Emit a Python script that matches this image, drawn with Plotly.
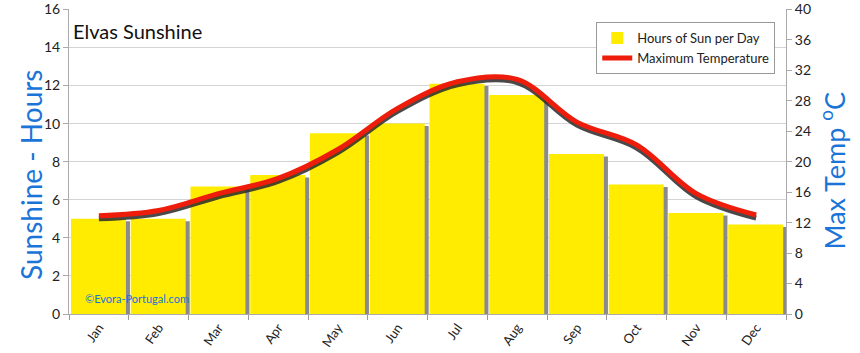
import plotly.graph_objects as go

months = ["Jan", "Feb", "Mar", "Apr", "May", "Jun", "Jul", "Aug", "Sep", "Oct", "Nov", "Dec"]
sun_hours = [5.0, 5.0, 6.7, 7.3, 9.5, 10.0, 12.1, 11.5, 8.4, 6.8, 5.3, 4.7]
max_temp = [12.9, 13.6, 15.8, 17.8, 21.6, 27.0, 30.5, 30.8, 25.2, 22.2, 15.8, 13.0]

FONT = "Lato"
BLUE = "#1b74d8"

fig = go.Figure()

# bar shadows (gray), drawn behind and slightly lower / to the right
fig.add_trace(go.Bar(x=months, y=sun_hours, base=-0.13, offset=-0.40, width=0.92,
                     marker=dict(color="#8a8a8a", line=dict(width=0)),
                     showlegend=False, hoverinfo="skip"))
# sunshine bars
fig.add_trace(go.Bar(x=months, y=sun_hours, name="Hours of Sun per Day",
                     offset=-0.467, width=0.92,
                     marker=dict(color="#FFEC00", line=dict(width=0))))
# line shadow (hidden, slightly shifted axis so it sits below the red line)
fig.add_trace(go.Scatter(x=months, y=max_temp, yaxis="y2", mode="lines",
                         line=dict(color="#2a2a2a", width=5, shape="spline", smoothing=1.0),
                         opacity=0.85, showlegend=False, hoverinfo="skip"))
# temperature line
fig.add_trace(go.Scatter(x=months, y=max_temp, yaxis="y3", mode="lines",
                         name="Maximum Temperature",
                         line=dict(color="#ee1c0a", width=5, shape="spline", smoothing=1.0)))

fig.update_layout(
    width=860, height=353,
    margin=dict(l=69, r=74, t=9, b=39),
    paper_bgcolor="white", plot_bgcolor="white",
    barmode="overlay",
    font=dict(family=FONT, size=13, color="#222"),
    xaxis=dict(type="category", tickson="boundaries", ticks="outside", ticklen=5,
               tickcolor="#999", tickangle=-55, showline=True, linecolor="#aaa",
               showgrid=False, tickfont=dict(size=13, color="#222"),
               range=[-0.5, 11.5], automargin=False),
    yaxis=dict(range=[0, 16.02], tickvals=[0, 2, 4, 6, 8, 10, 12, 14, 16],
               showgrid=True, gridcolor="#d4d4d4",
               showline=True, linecolor="#aaa", ticks="outside", ticklen=5,
               tickcolor="#aaa", tickfont=dict(size=14, color="#222"), zeroline=False,
               ticklabeloverflow="allow", automargin=False),
    yaxis2=dict(range=[0.4, 40.45], overlaying="y", visible=False),
    yaxis3=dict(range=[0, 40.05], tickvals=[0, 4, 8, 12, 16, 20, 24, 28, 32, 36, 40],
                overlaying="y", side="right", showgrid=False,
                showline=True, linecolor="#aaa", ticks="outside", ticklen=5,
                tickcolor="#aaa", tickfont=dict(size=14, color="#222"), zeroline=False,
                ticklabeloverflow="allow", automargin=False),
    legend=dict(x=0.985, y=0.957, xanchor="right", yanchor="top",
                bgcolor="white", bordercolor="#999", borderwidth=1,
                font=dict(size=13, color="#222"), tracegroupgap=2,
                itemsizing="constant"),
    annotations=[
        dict(text="Elvas Sunshine", xref="paper", yref="paper", x=0.003, y=0.975,
             xanchor="left", yanchor="top", showarrow=False,
             font=dict(size=20, color="#111", family=FONT)),
        dict(text="Sunshine - Hours", xref="paper", yref="paper", x=-0.052, y=0.455,
             xanchor="center", yanchor="middle", textangle=-90, showarrow=False,
             font=dict(size=28, color=BLUE, family=FONT)),
        dict(text="Max Temp <sup>o</sup>C", xref="paper", yref="paper", x=1.064, y=0.47,
             xanchor="center", yanchor="middle", textangle=-90, showarrow=False,
             font=dict(size=27, color=BLUE, family=FONT)),
        dict(text="©Evora-Portugal.com", xref="paper", yref="paper", x=0.02, y=0.05,
             xanchor="left", yanchor="middle", showarrow=False,
             font=dict(size=11, color=BLUE, family=FONT)),
    ],
)

fig.write_html("out.html")
